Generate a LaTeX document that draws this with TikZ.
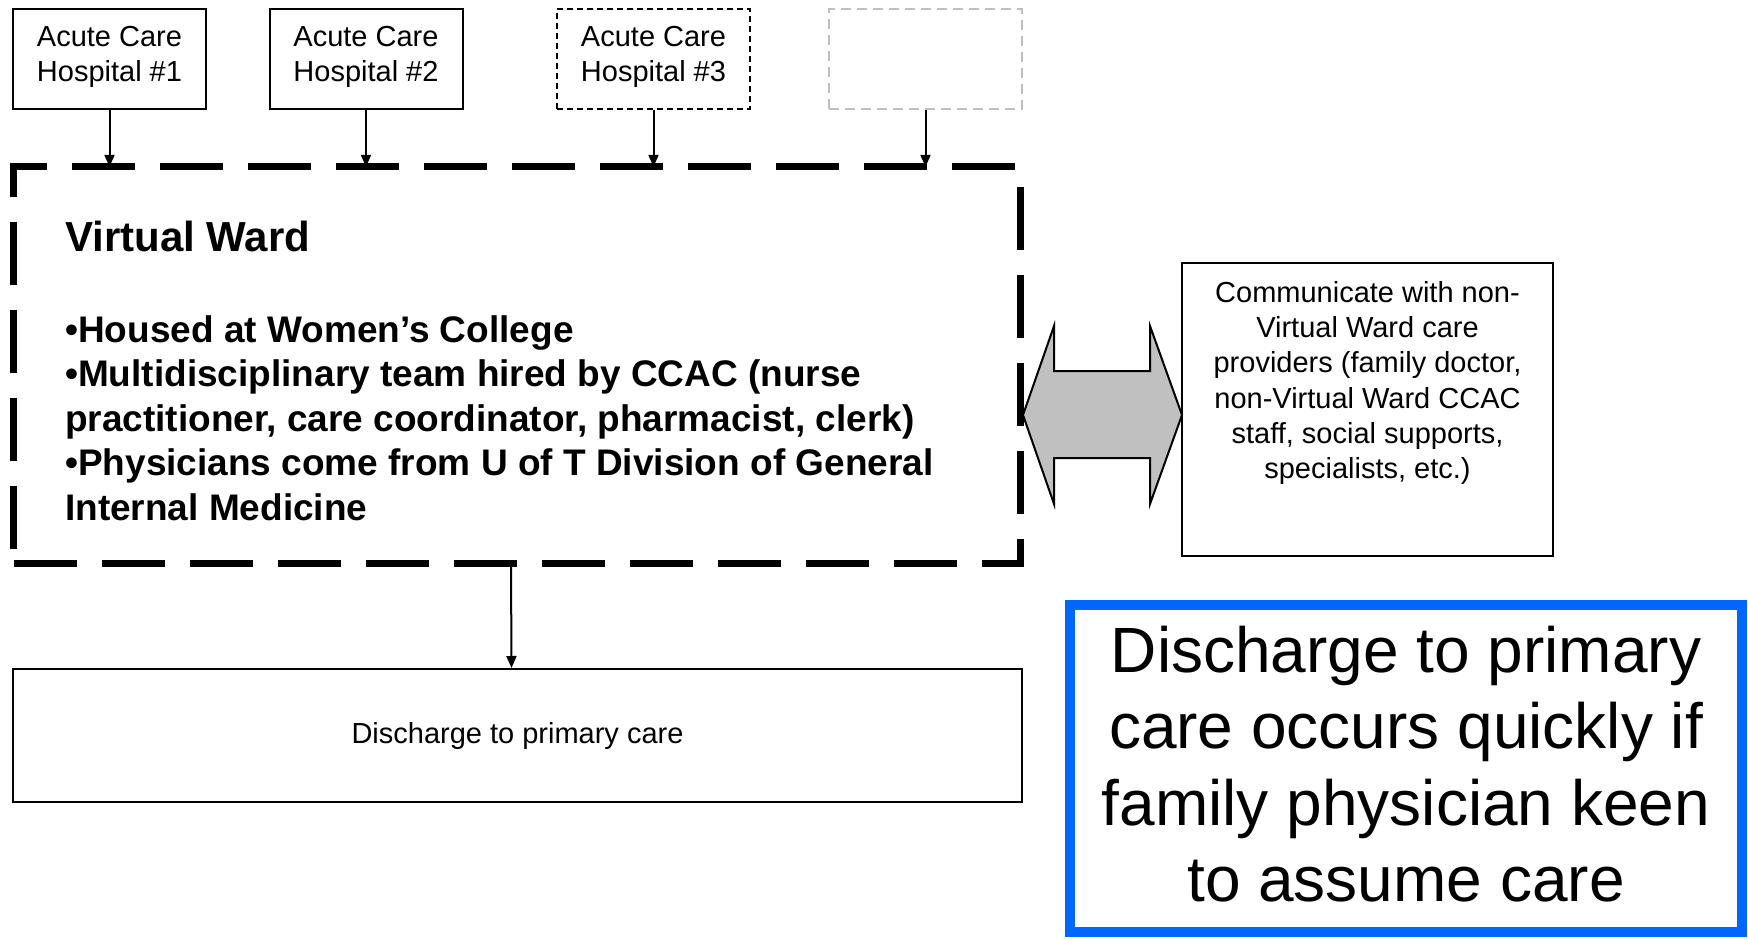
\documentclass[tikz,border=0pt]{standalone}
\usepackage{fontspec}
\setmainfont{Liberation Sans}
\usetikzlibrary{arrows.meta}
\definecolor{bluebox}{RGB}{0,102,255}
\definecolor{arrgray}{RGB}{192,192,192}
\definecolor{lightdash}{RGB}{191,191,191}
\tikzset{
  hosp/.style={draw, line width=2pt, minimum width=193pt, minimum height=100pt, inner sep=0pt, align=center, text depth=10pt, font=\fontsize{29}{35.2}\selectfont},
  conn/.style={line width=2pt, -{Triangle[length=12pt,width=10pt]}},
  plainbox/.style={draw, line width=2pt, inner sep=0pt},
  smalltext/.style={font=\fontsize{29}{35.2}\selectfont, align=center, inner sep=0pt},
}
\begin{document}
\begin{tikzpicture}[x=1pt,y=-1pt]
\useasboundingbox[fill=white] (0,0) rectangle (1748,939);
% hospitals
\node[hosp] (h1) at (109.5,59) {Acute Care\\Hospital \#1};
\node[hosp] (h2) at (366,59) {Acute Care\\Hospital \#2};
\node[hosp, dash pattern=on 6pt off 4pt] (h3) at (653.5,59) {Acute Care\\Hospital \#3};
\node[hosp, draw=lightdash, dash pattern=on 10pt off 6pt] (h4) at (925.5,59) {};
% virtual ward
\node[minimum width=1006pt, minimum height=396pt, inner sep=0pt] (vw) at (517,365) {};
\draw[line width=7pt, dash pattern=on 63pt off 25pt] (vw.south west) -- (vw.south east) -- (vw.north east) -- (vw.north west) -- cycle;
\foreach \h in {h1,h2,h3,h4} \draw[conn] (\h.south) -- (\h.south |- vw.north);
\node[anchor=base west, inner sep=0pt, font=\fontsize{42}{50}\selectfont\bfseries] (vwt) at (65,251) {Virtual Ward};
\node[anchor=west, inner sep=0pt, align=left, font=\fontsize{37}{44.6}\selectfont\bfseries] (vwb) at (65,418) {•Housed at Women’s College\\•Multidisciplinary team hired by CCAC (nurse\\practitioner, care coordinator, pharmacist, clerk)\\•Physicians come from U of T Division of General\\Internal Medicine};
% communicate box
\node[plainbox, minimum width=371pt, minimum height=293pt] (cb) at (1367.5,409.5) {};
\node[smalltext] (cbt) at (1367.5,383) {Communicate with non-\\Virtual Ward care\\providers (family doctor,\\non-Virtual Ward CCAC\\staff, social supports,\\specialists, etc.)};
% double arrow
\draw[line width=2pt, fill=arrgray, line join=miter] (1023,415) -- (1054,326) -- (1054,371) -- (1150,371) -- (1150,326) -- (1182,415) -- (1150,504) -- (1150,458) -- (1054,458) -- (1054,504) -- cycle;
% discharge
\node[plainbox, minimum width=1009pt, minimum height=133pt, font=\fontsize{29}{35.2}\selectfont] (dis) at (517.5,735.5) {Discharge to primary care};
\draw[conn] ([xshift=-6pt]vw.south) -- ([xshift=-6pt]dis.north);
% note
\node[draw=bluebox, line width=10pt, minimum width=672pt, minimum height=327pt, inner sep=0pt, align=center, text depth=9pt, font=\fontsize{64}{76.4}\selectfont] (note) at (1406,768.5) {Discharge to primary\\care occurs quickly if\\family physician keen\\to assume care};
\end{tikzpicture}
\end{document}
